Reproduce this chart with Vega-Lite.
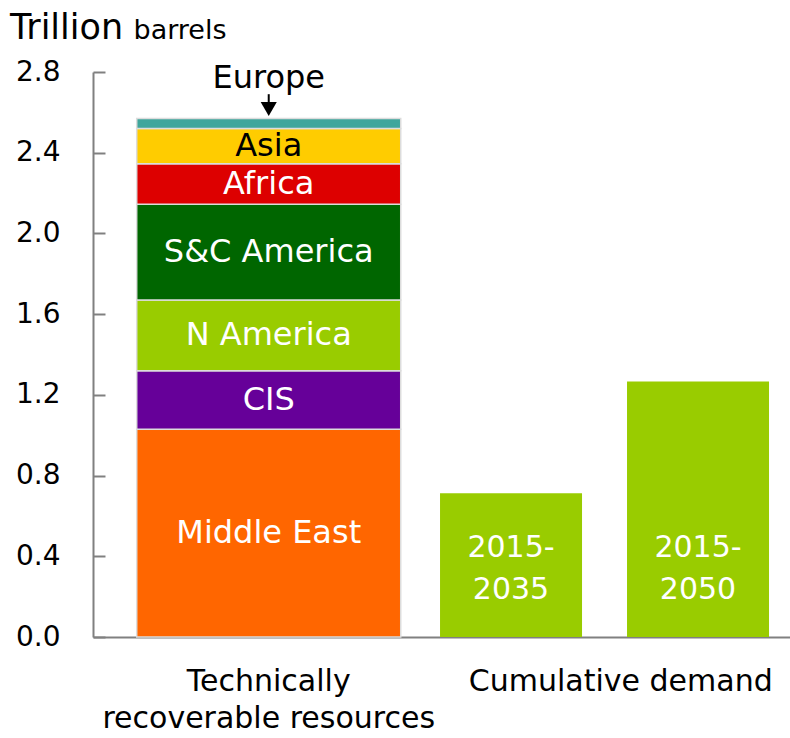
{
  "$schema": "https://vega.github.io/schema/vega-lite/v6.json",
  "width": 697,
  "height": 565,
  "autosize": "none",
  "padding": {"left": 93, "top": 72, "right": 0, "bottom": 101},
  "background": "white",
  "config": {"view": {"stroke": null}, "font": "DejaVu Sans", "axis": {"grid": false}},
  "title": {"text": "Trillion", "anchor": "start", "frame": "group", "fontSize": 35, "fontWeight": "normal", "color": "#000000", "font": "DejaVu Sans", "dx": -83, "dy": 58, "offset": 0, "baseline": "alphabetic"},
  "data": {"values": [
    {"group": "Technically recoverable resources", "segment": "Middle East", "value": 1.03},
    {"group": "Technically recoverable resources", "segment": "CIS", "value": 0.29},
    {"group": "Technically recoverable resources", "segment": "N America", "value": 0.35},
    {"group": "Technically recoverable resources", "segment": "S&C America", "value": 0.475},
    {"group": "Technically recoverable resources", "segment": "Africa", "value": 0.2},
    {"group": "Technically recoverable resources", "segment": "Asia", "value": 0.175},
    {"group": "Technically recoverable resources", "segment": "Europe", "value": 0.05},
    {"group": "Cumulative demand", "segment": "2015-2035", "value": 0.713},
    {"group": "Cumulative demand", "segment": "2015-2050", "value": 1.266}
  ]},
  "layer": [
    {
      "transform": [
        {"filter": "datum.group == 'Technically recoverable resources'"},
        {"calculate": "indexof(['Middle East','CIS','N America','S&C America','Africa','Asia','Europe'], datum.segment)", "as": "ord"},
        {"stack": "value", "groupby": ["group"], "sort": [{"field": "ord", "order": "ascending"}], "as": ["v0", "v1"]},
        {"calculate": "(datum.v0 + datum.v1) / 2", "as": "mid"}
      ],
      "encoding": {
        "x": {
          "field": "group", "type": "nominal",
          "scale": {"domain": ["Technically recoverable resources", "Cumulative demand"], "paddingInner": 0.25, "paddingOuter": 0.115, "align": 0.54},
          "axis": {
            "title": null, "ticks": false, "labelAngle": 0, "labelFontSize": 30, "labelColor": "#000000", "labelLimit": 500,
            "labelPadding": 29, "labelLineHeight": 37, "labelBaseline": "top",
            "labelExpr": "datum.value == 'Technically recoverable resources' ? ['Technically', 'recoverable resources'] : datum.value",
            "domainColor": "#808080", "domainWidth": 2
          }
        }
      },
      "layer": [
        {
          "mark": {"type": "bar", "stroke": "#dcdcdc", "strokeWidth": 1.5},
          "encoding": {
            "y": {
              "field": "v1", "type": "quantitative",
              "scale": {"domain": [0, 2.8], "nice": false},
              "axis": {
                "title": "barrels", "titleAngle": 0, "titleAlign": "left", "titleBaseline": "alphabetic",
                "titleX": 40, "titleY": -34, "titleFontSize": 27, "titleFontWeight": "normal", "titleColor": "#000000",
                "values": [0, 0.4, 0.8, 1.2, 1.6, 2.0, 2.4, 2.8], "format": ".1f",
                "labelFontSize": 28, "labelColor": "#000000", "labelFlush": false, "labelOverlap": false,
                "tickSize": -12, "tickWidth": 2, "tickColor": "#808080",
                "domainColor": "#808080", "domainWidth": 2, "labelPadding": 45
              }
            },
            "y2": {"field": "v0"},
            "color": {
              "field": "segment", "type": "nominal", "legend": null,
              "scale": {
                "domain": ["Middle East", "CIS", "N America", "S&C America", "Africa", "Asia", "Europe"],
                "range": ["#ff6600", "#660099", "#99cc00", "#006600", "#dd0000", "#ffcc00", "#3fa69c"]
              }
            }
          }
        },
        {
          "transform": [{"filter": "datum.segment != 'Europe'"}],
          "mark": {"type": "text", "fontSize": 32, "baseline": "middle", "align": "center"},
          "encoding": {
            "y": {"field": "mid", "type": "quantitative"},
            "text": {"field": "segment"},
            "color": {"condition": {"test": "datum.segment == 'Asia'", "value": "#000000"}, "value": "#ffffff"}
          }
        },
        {
          "transform": [{"filter": "datum.segment == 'Europe'"}],
          "mark": {"type": "text", "fontSize": 32, "baseline": "alphabetic", "align": "center", "color": "#000000"},
          "encoding": {"y": {"datum": 2.722}, "text": {"field": "segment"}}
        },
        {
          "transform": [{"filter": "datum.segment == 'Europe'"}],
          "mark": {"type": "rule", "color": "#000000", "strokeWidth": 2},
          "encoding": {"y": {"datum": 2.69}, "y2": {"datum": 2.63}}
        },
        {
          "transform": [{"filter": "datum.segment == 'Europe'"}],
          "mark": {"type": "point", "shape": "triangle-down", "filled": true, "color": "#000000", "size": 260, "opacity": 1},
          "encoding": {"y": {"datum": 2.617}}
        }
      ]
    },
    {
      "transform": [
        {"filter": "datum.group == 'Cumulative demand'"},
        {"calculate": "replace(datum.segment, '-', '-\\n')", "as": "lbl"}
      ],
      "encoding": {
        "x": {
          "field": "segment", "type": "nominal",
          "scale": {"domain": ["2015-2035", "2015-2050"], "paddingInner": 0.2406, "paddingOuter": 0.984, "align": 0.943},
          "axis": null
        }
      },
      "layer": [
        {
          "mark": {"type": "bar", "color": "#99cc00"},
          "encoding": {"y": {"field": "value", "type": "quantitative", "scale": {"domain": [0, 2.8], "nice": false}}}
        },
        {
          "mark": {"type": "text", "fontSize": 30, "color": "#ffffff", "baseline": "middle", "align": "center", "lineBreak": "\n", "lineHeight": 42},
          "encoding": {"y": {"datum": 0.4425}, "text": {"field": "lbl"}}
        }
      ]
    }
  ],
  "resolve": {"scale": {"x": "independent"}}
}
